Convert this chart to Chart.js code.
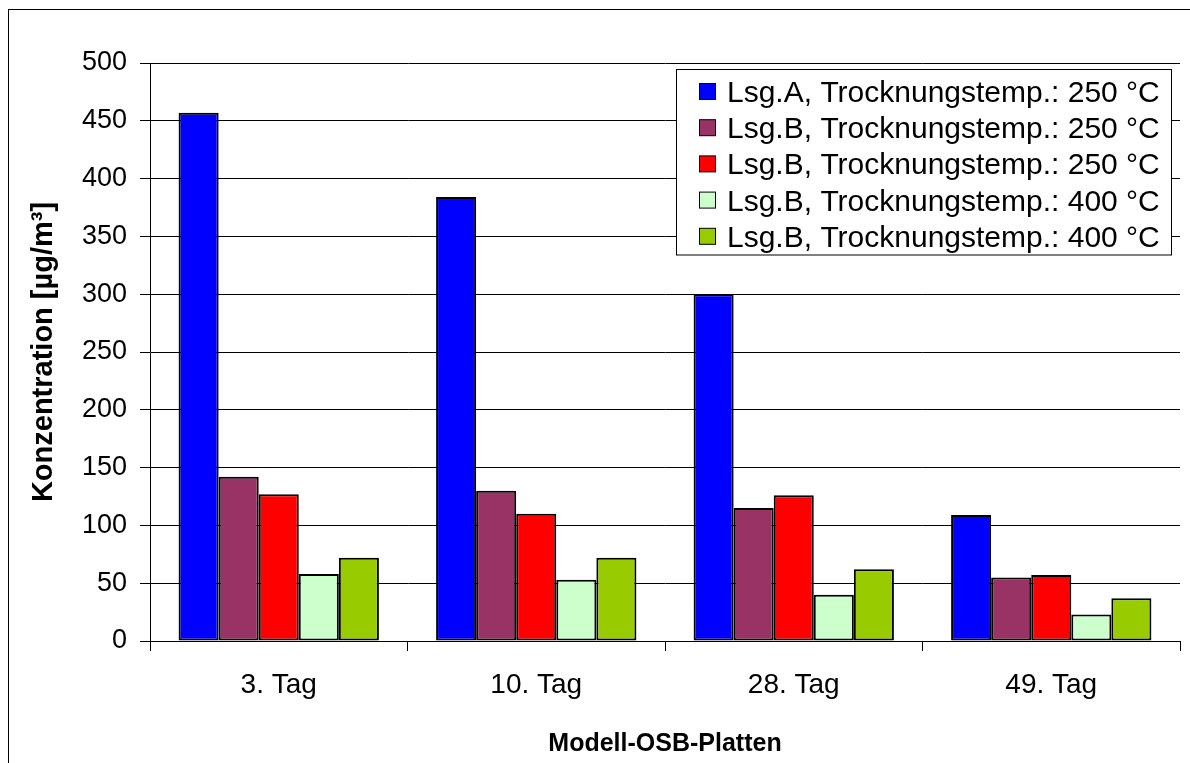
<!DOCTYPE html>
<html>
<head>
<meta charset="utf-8">
<script src="https://cdn.jsdelivr.net/npm/chart.js@4.4.1/dist/chart.umd.min.js"></script>
<style>
  html, body { margin: 0; padding: 0; background: #fff; }
  #wrap { position: relative; width: 1190px; height: 763px; overflow: hidden; }
  canvas { display: block; }
</style>
</head>
<body>
<div id="wrap"><canvas id="c" width="1190" height="763"></canvas></div>
<script>
// Sampling days of the model OSB boards
const categories = ['3. Tag', '10. Tag', '28. Tag', '49. Tag'];

// Concentration in µg/m³ per series
const lsgA250 = [457, 384, 300, 109];
const lsgB250a = [142, 130, 115, 55];
const lsgB250b = [127, 110, 126, 57];
const lsgB400a = [58, 53, 40, 23];
const lsgB400b = [72, 72, 62, 37];

const seriesLabels = [
  'Lsg.A, Trocknungstemp.: 250 °C',
  'Lsg.B, Trocknungstemp.: 250 °C',
  'Lsg.B, Trocknungstemp.: 250 °C',
  'Lsg.B, Trocknungstemp.: 400 °C',
  'Lsg.B, Trocknungstemp.: 400 °C'
];
const seriesColors = ['#0000FF', '#993366', '#FF0000', '#CCFFCC', '#99CC00'];
const seriesValues = [lsgA250, lsgB250a, lsgB250b, lsgB400a, lsgB400b];

// Y axis range and step
const yMin = 0, yMax = 500, yStep = 50;

const FONT = "'Liberation Sans', Arial, Helvetica, sans-serif";

// Outer frame around the chart
const framePlugin = {
  id: 'frame',
  beforeDraw(chart) {
    const ctx = chart.ctx;
    ctx.save();
    ctx.fillStyle = '#fff';
    ctx.fillRect(0, 0, chart.width, chart.height);
    ctx.strokeStyle = '#000';
    ctx.lineWidth = 1;
    ctx.strokeRect(8.5, 9.5, 1300, 900);
    ctx.restore();
  }
};

// Boxed legend placed inside the plot, top-right
const boxLegend = {
  id: 'boxLegend',
  afterDraw(chart) {
    const ctx = chart.ctx;
    const bx = 676.5, by = 69.5, bw = 495, bh = 185.5;
    ctx.save();
    ctx.fillStyle = '#fff';
    ctx.fillRect(bx, by, bw, bh);
    ctx.strokeStyle = '#000';
    ctx.lineWidth = 1;
    ctx.strokeRect(bx, by, bw, bh);
    ctx.font = '30px ' + FONT;
    ctx.textBaseline = 'alphabetic';
    ctx.textAlign = 'left';
    chart.data.datasets.forEach((ds, i) => {
      const base = 102 + i * 36.2;
      const sy = base - 18.5;
      ctx.fillStyle = ds.backgroundColor;
      ctx.fillRect(699.5, sy, 16, 16);
      ctx.strokeStyle = '#000';
      ctx.lineWidth = 1;
      ctx.strokeRect(699.5, sy, 16, 16);
      ctx.fillStyle = '#000';
      ctx.fillText(ds.label, 727, base);
    });
    ctx.restore();
  }
};

new Chart(document.getElementById('c'), {
  type: 'bar',
  data: {
    labels: categories,
    datasets: seriesValues.map((vals, i) => ({
      label: seriesLabels[i],
      data: vals,
      backgroundColor: seriesColors[i],
      borderColor: '#000',
      borderWidth: 2,
      borderSkipped: false,
      barPercentage: 1.0,
      categoryPercentage: 0.778
    }))
  },
  options: {
    responsive: false,
    animation: false,
    devicePixelRatio: 1,
    layout: { padding: { left: 0, top: 63, right: 10, bottom: 0 } },
    plugins: {
      legend: { display: false },
      tooltip: { enabled: false }
    },
    scales: {
      x: {
        offset: true,
        grid: {
          offset: true,
          drawOnChartArea: false,
          drawTicks: true,
          tickLength: 10,
          color: '#000',
          lineWidth: 1
        },
        border: { display: true, color: '#000', width: 1 },
        ticks: {
          color: '#000',
          font: { family: FONT, size: 28 },
          padding: 17,
          maxRotation: 0
        },
        title: {
          display: true,
          text: 'Modell-OSB-Platten',
          color: '#000',
          font: { family: FONT, size: 25, weight: 'bold' },
          padding: { top: 0, bottom: 3.5 }
        },
        afterFit(scale) { scale.height = 122; }
      },
      y: {
        min: yMin,
        max: yMax,
        ticks: {
          stepSize: yStep,
          color: '#000',
          font: { family: FONT, size: 27 },
          padding: 13
        },
        grid: {
          color: '#000',
          lineWidth: 1,
          drawTicks: true,
          tickLength: 10
        },
        border: { display: true, color: '#000', width: 1 },
        title: {
          display: true,
          text: 'Konzentration [µg/m³]',
          color: '#000',
          font: { family: FONT, size: 29, weight: 'bold' },
          padding: { top: 27, bottom: 0 }
        },
        afterFit(scale) { scale.width = 150; }
      }
    }
  },
  plugins: [framePlugin, boxLegend]
});
</script>
</body>
</html>
